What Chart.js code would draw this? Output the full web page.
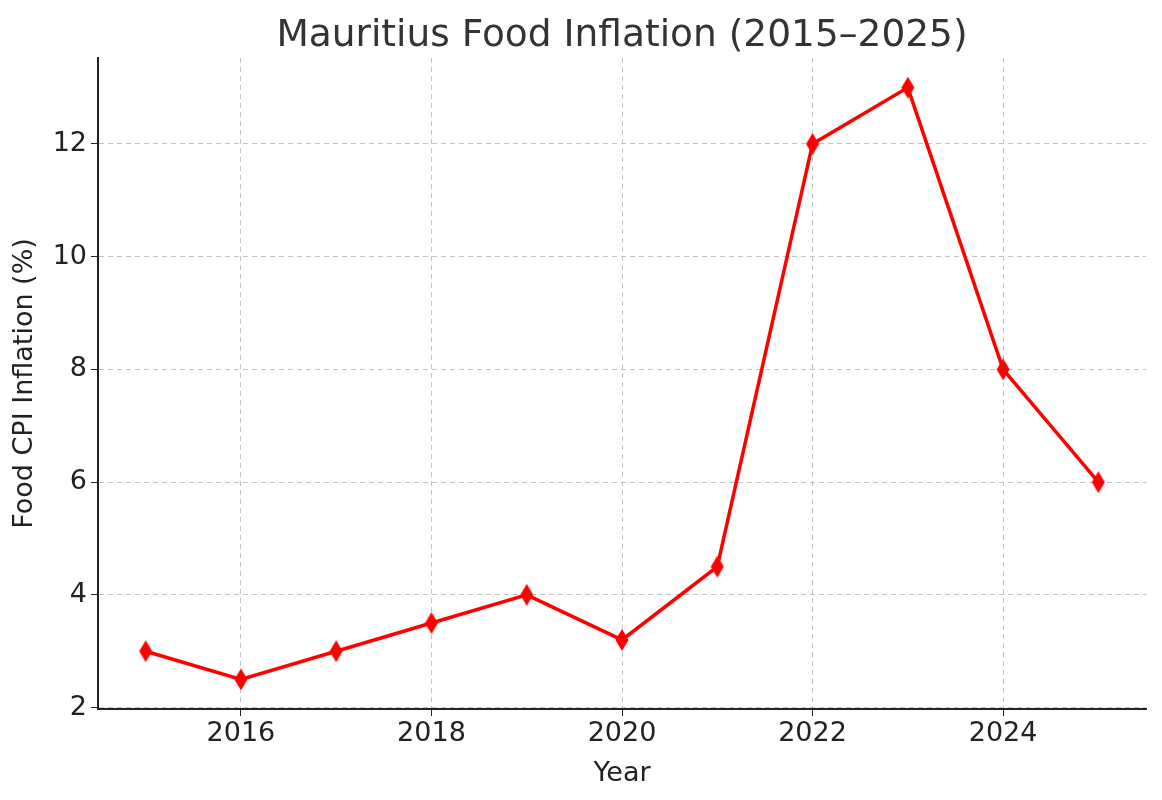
<!DOCTYPE html>
<html>
<head>
<meta charset="utf-8">
<script src="https://cdn.jsdelivr.net/npm/chart.js@4.4.0/dist/chart.umd.min.js"></script>
<style>
  html, body { margin: 0; padding: 0; background: #fff; }
  #wrap { width: 1162px; height: 800px; }
</style>
</head>
<body>
<div id="wrap"><canvas id="foodChart" width="1162" height="800"></canvas></div>
<script>
  const years = [2015, 2016, 2017, 2018, 2019, 2020, 2021, 2022, 2023, 2024, 2025];
  const inflation = [3, 2.5, 3, 3.5, 4, 3.2, 4.5, 12, 13, 8, 6];
  const xTicks = [2016, 2018, 2020, 2022, 2024];
  const yTicks = [2, 4, 6, 8, 10, 12];

  const font = "'DejaVu Sans', sans-serif";

  // thin diamond marker like matplotlib 'd'
  const diamond = document.createElement('canvas');
  diamond.width = 14;
  diamond.height = 22;
  const dctx = diamond.getContext('2d');
  dctx.fillStyle = '#ff0000';
  dctx.beginPath();
  dctx.moveTo(7, 0);
  dctx.lineTo(13.5, 11);
  dctx.lineTo(7, 22);
  dctx.lineTo(0.5, 11);
  dctx.closePath();
  dctx.fill();

  const titlePlugin = {
    id: 'axesTitle',
    afterDraw(chart) {
      const { ctx, chartArea } = chart;
      ctx.save();
      ctx.font = '37.5px ' + font;
      ctx.fillStyle = '#333333';
      ctx.textAlign = 'center';
      ctx.textBaseline = 'alphabetic';
      ctx.fillText('Mauritius Food Inflation (2015–2025)', (chartArea.left + chartArea.right) / 2, 46);
      ctx.restore();
    }
  };

  const pts = years.map((y, i) => ({ x: y, y: inflation[i] }));

  new Chart(document.getElementById('foodChart'), {
    type: 'line',
    data: {
      datasets: [{
        data: pts,
        borderColor: '#ff0000',
        borderWidth: 3.5,
        pointStyle: diamond,
        pointRadius: 8,
        pointHoverRadius: 8,
        tension: 0
      }]
    },
    options: {
      responsive: false,
      animation: false,
      devicePixelRatio: 1,
      layout: { padding: { top: 58, right: 16, left: 9, bottom: 0 } },
      plugins: {
        legend: { display: false },
        tooltip: { enabled: false }
      },
      scales: {
        x: {
          type: 'linear',
          min: 2014.5,
          max: 2025.5,
          afterBuildTicks: s => { s.ticks = xTicks.map(v => ({ value: v })); },
          afterFit: s => { s.height = 91; },
          grid: { color: '#c4c4c4', lineWidth: 1, tickColor: '#222', tickLength: 7 },
          border: { color: '#222', width: 2, dash: [5, 4] },
          ticks: { color: '#222', font: { family: font, size: 27 }, padding: 2, maxRotation: 0, callback: v => String(v) },
          title: { display: true, text: 'Year', color: '#222', font: { family: font, size: 27 }, padding: { top: 0, bottom: 10 } }
        },
        y: {
          min: 1.975,
          max: 13.525,
          afterBuildTicks: s => { s.ticks = yTicks.map(v => ({ value: v })); },
          afterFit: s => { s.width = 89; },
          grid: { color: '#c4c4c4', lineWidth: 1, tickColor: '#222', tickLength: 7 },
          border: { color: '#222', width: 2, dash: [5, 4] },
          ticks: { color: '#222', font: { family: font, size: 27 }, padding: 4, callback: v => String(v) },
          title: { display: true, text: 'Food CPI Inflation (%)', color: '#222', font: { family: font, size: 27 }, padding: { top: 0, bottom: 6 } }
        }
      }
    },
    plugins: [titlePlugin]
  });
</script>
</body>
</html>
